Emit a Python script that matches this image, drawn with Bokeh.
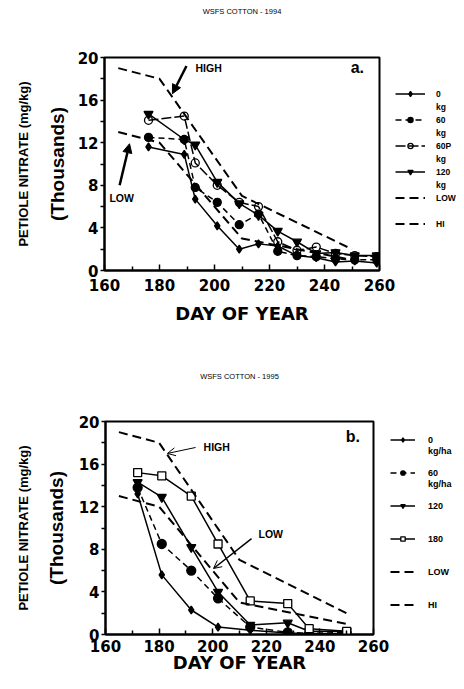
import math
from bokeh.plotting import figure
from bokeh.models import (Range1d, FixedTicker, Legend, LegendItem, Label, Arrow,
                          NormalHead, OpenHead, LinearAxis)
from bokeh.layouts import column, row
from bokeh.embed import file_html
from bokeh.resources import INLINE

# ---------------- data: panel a (1994) ----------------
days_a = [176, 189, 193, 201, 209, 216, 223, 230, 237, 244, 251, 259]
a_0kg = [11.6, 10.9, 6.7, 4.2, 2.0, 2.5, 2.3, 1.4, 1.2, 0.8, 0.9, 0.7]
a_60kg = [12.5, 12.3, 7.8, 6.4, 4.3, 5.3, 1.8, 1.4, 1.3, 1.1, 1.0, 1.0]
a_60p = [14.1, 14.5, 10.1, 8.0, 6.4, 6.0, 2.7, 1.9, 2.2, 1.6, 1.4, 1.3]
a_120kg = [14.7, 12.3, 11.8, 8.3, 6.3, 5.2, 3.7, 2.7, 1.6, 1.7, 1.4, 1.4]

# ---------------- data: panel b (1995) ----------------
days_b = [172, 181, 192, 202, 214, 228, 236, 250]
b_0 = [13.2, 5.6, 2.3, 0.7, 0.4, 0.15, 0.1, 0.1]
b_60 = [13.8, 8.5, 6.0, 3.4, 0.7, 0.2, 0.1, 0.2]
b_120 = [14.3, 12.9, 8.2, 4.0, 0.9, 1.1, 0.3, 0.3]
b_180 = [15.2, 14.9, 13.0, 8.5, 3.15, 2.9, 0.55, 0.3]

# sufficiency reference curves
ref_days = [165, 180, 210, 250]
ref_low = [13, 12, 3, 1]
ref_high = [19, 18, 7, 2]

x_ticks = [160, 180, 200, 220, 240, 260]
x_minor = [170, 190, 210, 230, 250]
y_ticks = [0, 4, 8, 12, 16, 20]
y_minor = [2, 6, 10, 14, 18]

TICKF = "DejaVu Sans"
TXTF = "Liberation Sans"


def make_fig(w, h, bl, br, bt, bb, tick_standoff, label_standoff, title, title_standoff,
             ylab_standoff, ylab2_standoff):
    p = figure(width=w, height=h, x_range=Range1d(160, 260), y_range=Range1d(0, 20),
               output_backend="svg", toolbar_location=None,
               min_border_left=bl, min_border_right=br, min_border_top=bt, min_border_bottom=bb)
    p.grid.visible = False
    p.outline_line_color = "black"
    p.outline_line_width = 2
    p.background_fill_color = "white"
    p.border_fill_color = "white"
    xa = p.xaxis[0]
    xa.ticker = FixedTicker(ticks=x_ticks, minor_ticks=x_minor)
    xa.axis_line_width = 2
    xa.major_tick_in = 6
    xa.major_tick_out = 0
    xa.minor_tick_in = 4
    xa.minor_tick_out = 0
    xa.major_tick_line_width = 1.5
    xa.minor_tick_line_width = 1.5
    xa.major_label_text_font = TICKF
    xa.major_label_text_font_style = "bold"
    xa.major_label_text_font_size = "15px"
    xa.major_label_text_color = "black"
    xa.major_label_standoff = tick_standoff
    xa.axis_label = "DAY OF YEAR"
    xa.axis_label_text_font = TICKF
    xa.axis_label_text_font_style = "bold"
    xa.axis_label_text_font_size = "18px"
    xa.axis_label_text_color = "black"
    xa.axis_label_standoff = label_standoff
    ya = p.yaxis[0]
    ya.ticker = FixedTicker(ticks=y_ticks, minor_ticks=y_minor)
    ya.axis_line_width = 2
    ya.major_tick_in = 0
    ya.major_tick_out = 4
    ya.minor_tick_in = 0
    ya.minor_tick_out = 4
    ya.major_tick_line_width = 1.5
    ya.minor_tick_line_width = 1.5
    ya.major_label_text_font = TICKF
    ya.major_label_text_font_style = "bold"
    ya.major_label_text_font_size = "15px"
    ya.major_label_text_color = "black"
    ya.major_label_standoff = 2
    ya.axis_label = "(Thousands)"
    ya.axis_label_text_font = TXTF
    ya.axis_label_text_font_style = "bold"
    ya.axis_label_text_font_size = "19px"
    ya.axis_label_text_color = "black"
    ya.axis_label_standoff = ylab_standoff
    ax2 = LinearAxis(ticker=FixedTicker(ticks=[]), axis_label="PETIOLE NITRATE (mg/kg)",
                     axis_line_alpha=0, major_tick_out=0, major_tick_in=0,
                     minor_tick_out=0, minor_tick_in=0, major_label_standoff=0,
                     axis_label_text_font=TXTF, axis_label_text_font_style="bold",
                     axis_label_text_font_size="13px", axis_label_text_color="black",
                     axis_label_standoff=ylab2_standoff)
    p.add_layout(ax2, "left")
    top = LinearAxis(ticker=FixedTicker(ticks=[]), axis_label=title,
                     axis_line_alpha=0, major_tick_out=0, major_tick_in=0,
                     minor_tick_out=0, minor_tick_in=0, major_label_standoff=0,
                     axis_label_text_font=TXTF, axis_label_text_font_style="normal",
                     axis_label_text_font_size="7.5px", axis_label_text_color="black",
                     axis_label_standoff=title_standoff)
    p.add_layout(top, "above")
    return p


def legend_fig(w, h):
    f = figure(width=w, height=h, x_range=Range1d(0, 1), y_range=Range1d(0, 1),
               x_axis_type=None, y_axis_type=None, output_backend="svg",
               toolbar_location=None, min_border=0)
    f.grid.visible = False
    f.outline_line_color = None
    f.background_fill_color = "white"
    f.border_fill_color = "white"
    return f


def series(p, x, y, dash, marker, fill, size, lw=1.5):
    l = p.line(x, y, line_color="black", line_width=lw, line_dash=dash)
    s = p.scatter(x, y, marker=marker, size=size, line_color="black",
                  fill_color=fill, line_width=1.3)
    return [l, s]


def blank(f, x, y):
    return [f.line(x, y, line_alpha=0)]


def txt(p, x, y, s, size, bold=False):
    p.add_layout(Label(x=x, y=y, text=s, text_align="left", text_baseline="middle",
                       text_font=TXTF, text_font_style="bold" if bold else "normal",
                       text_font_size=size, text_color="black"))


def legend_style(**kw):
    base = dict(padding=0, margin=0, spacing=0, label_text_font=TXTF,
                label_text_font_style="bold", background_fill_alpha=0,
                border_line_alpha=0, label_text_color="black")
    base.update(kw)
    return base


# ================= panel a =================
pa = make_fig(395, 340, 104, 16, 57, 70, 8, 9, "WSFS COTTON - 1994", 42, 7, 13)
series(pa, days_a, a_0kg, "solid", "diamond", "black", 8)
series(pa, days_a, a_60kg, "6 4", "circle", "black", 8)
series(pa, days_a, a_60p, "10 3", "circle", None, 8)
series(pa, days_a, a_120kg, "solid", "inverted_triangle", "black", 9)
pa.line(ref_days, ref_low, line_color="black", line_width=2, line_dash="9 5")
pa.line(ref_days, ref_high, line_color="black", line_width=2, line_dash="9 5")

txt(pa, 193.1, 19.0, "HIGH", "10.5px", bold=True)
txt(pa, 161.8, 6.84, "LOW", "10.5px", bold=True)
txt(pa, 249.5, 19.1, "a.", "16px", bold=True)
pa.add_layout(Arrow(end=NormalHead(size=9, fill_color="black", line_color="black"),
                    x_start=189.8, y_start=19.2, x_end=184.7, y_end=16.6,
                    line_width=2.5, line_color="black"))
pa.add_layout(Arrow(end=NormalHead(size=9, fill_color="black", line_color="black"),
                    x_start=165.5, y_start=8.0, x_end=169.1, y_end=11.9,
                    line_width=2.5, line_color="black"))

# legend panel a: the legend's sample glyphs reuse the series (they fall outside this panel's view)
la = legend_fig(69, 340)
leg_a_items = [("0", series(la, days_a, a_0kg, "solid", "diamond", "black", 8)),
               ("kg", blank(la, days_a, a_0kg)),
               ("60", series(la, days_a, a_60kg, "6 4", "circle", "black", 8)),
               ("kg", blank(la, days_a, a_60kg)),
               ("60P", series(la, days_a, a_60p, "10 3", "circle", None, 8)),
               ("kg", blank(la, days_a, a_60p)),
               ("120", series(la, days_a, a_120kg, "solid", "inverted_triangle", "black", 9)),
               ("kg", blank(la, days_a, a_120kg)),
               ("LOW", [la.line(ref_days, ref_low, line_color="black", line_width=2, line_dash="9 5")]),
               (" ", blank(la, ref_days, ref_low)),
               ("HI", [la.line(ref_days, ref_high, line_color="black", line_width=2, line_dash="9 5")])]
leg_a = Legend(items=[LegendItem(label=t, renderers=r) for t, r in leg_a_items],
               location=(0, 39.8), glyph_width=30, glyph_height=13, label_height=13,
               label_standoff=11, label_text_font_size="8.5px", **legend_style())
la.add_layout(leg_a)

# ================= panel b =================
pb = make_fig(390, 344, 105, 17, 81, 50, 5, -3, "WSFS COTTON - 1995", 41, 9, 12)
series(pb, days_b, b_0, "solid", "diamond", "black", 8)
series(pb, days_b, b_60, "6 4", "circle", "black", 9)
series(pb, days_b, b_120, "solid", "inverted_triangle", "black", 9)
series(pb, days_b, b_180, "solid", "square", "white", 8)
pb.line(ref_days, ref_low, line_color="black", line_width=2, line_dash="9 5")
pb.line(ref_days, ref_high, line_color="black", line_width=2, line_dash="9 5")

txt(pb, 196.6, 17.65, "HIGH", "10.5px", bold=True)
txt(pb, 217.1, 9.4, "LOW", "10.5px", bold=True)
txt(pb, 249.6, 18.6, "b.", "16px", bold=True)
pb.add_layout(Arrow(end=OpenHead(size=8, line_width=1, line_color="black"),
                    x_start=193.6, y_start=17.56, x_end=183.1, y_end=17.0,
                    line_width=1, line_color="black"))
pb.add_layout(Arrow(end=OpenHead(size=8, line_width=1, line_color="black"),
                    x_start=214.5, y_start=9.0, x_end=200.3, y_end=6.2,
                    line_width=1.5, line_color="black"))

lb = legend_fig(74, 344)
b_items = [("0", series(lb, days_b, b_0, "solid", "diamond", "black", 8)),
           ("kg/ha", blank(lb, days_b, b_0)), (" ", blank(lb, days_b, b_0)),
           ("60", series(lb, days_b, b_60, "6 4", "circle", "black", 9)),
           ("kg/ha", blank(lb, days_b, b_60)), (" ", blank(lb, days_b, b_60)),
           ("120", series(lb, days_b, b_120, "solid", "inverted_triangle", "black", 9)),
           (" ", blank(lb, days_b, b_120)), (" ", blank(lb, days_b, b_120)),
           ("180", series(lb, days_b, b_180, "solid", "square", "white", 8)),
           (" ", blank(lb, days_b, b_180)), (" ", blank(lb, days_b, b_180)),
           ("LOW", [lb.line(ref_days, ref_low, line_color="black", line_width=2, line_dash="9 5")]),
           (" ", blank(lb, ref_days, ref_low)), (" ", blank(lb, ref_days, ref_low)),
           ("HI", [lb.line(ref_days, ref_high, line_color="black", line_width=2, line_dash="9 5")])]
leg_b = Legend(items=[LegendItem(label=t, renderers=r) for t, r in b_items],
               location=(0, 23.8), glyph_width=25, glyph_height=11,
               label_height=11, label_standoff=13, label_text_font_size="9px",
               **legend_style())
lb.add_layout(leg_b)

layout = column(row(pa, la), row(pb, lb))
open("out.html", "w").write(file_html(layout, INLINE))
